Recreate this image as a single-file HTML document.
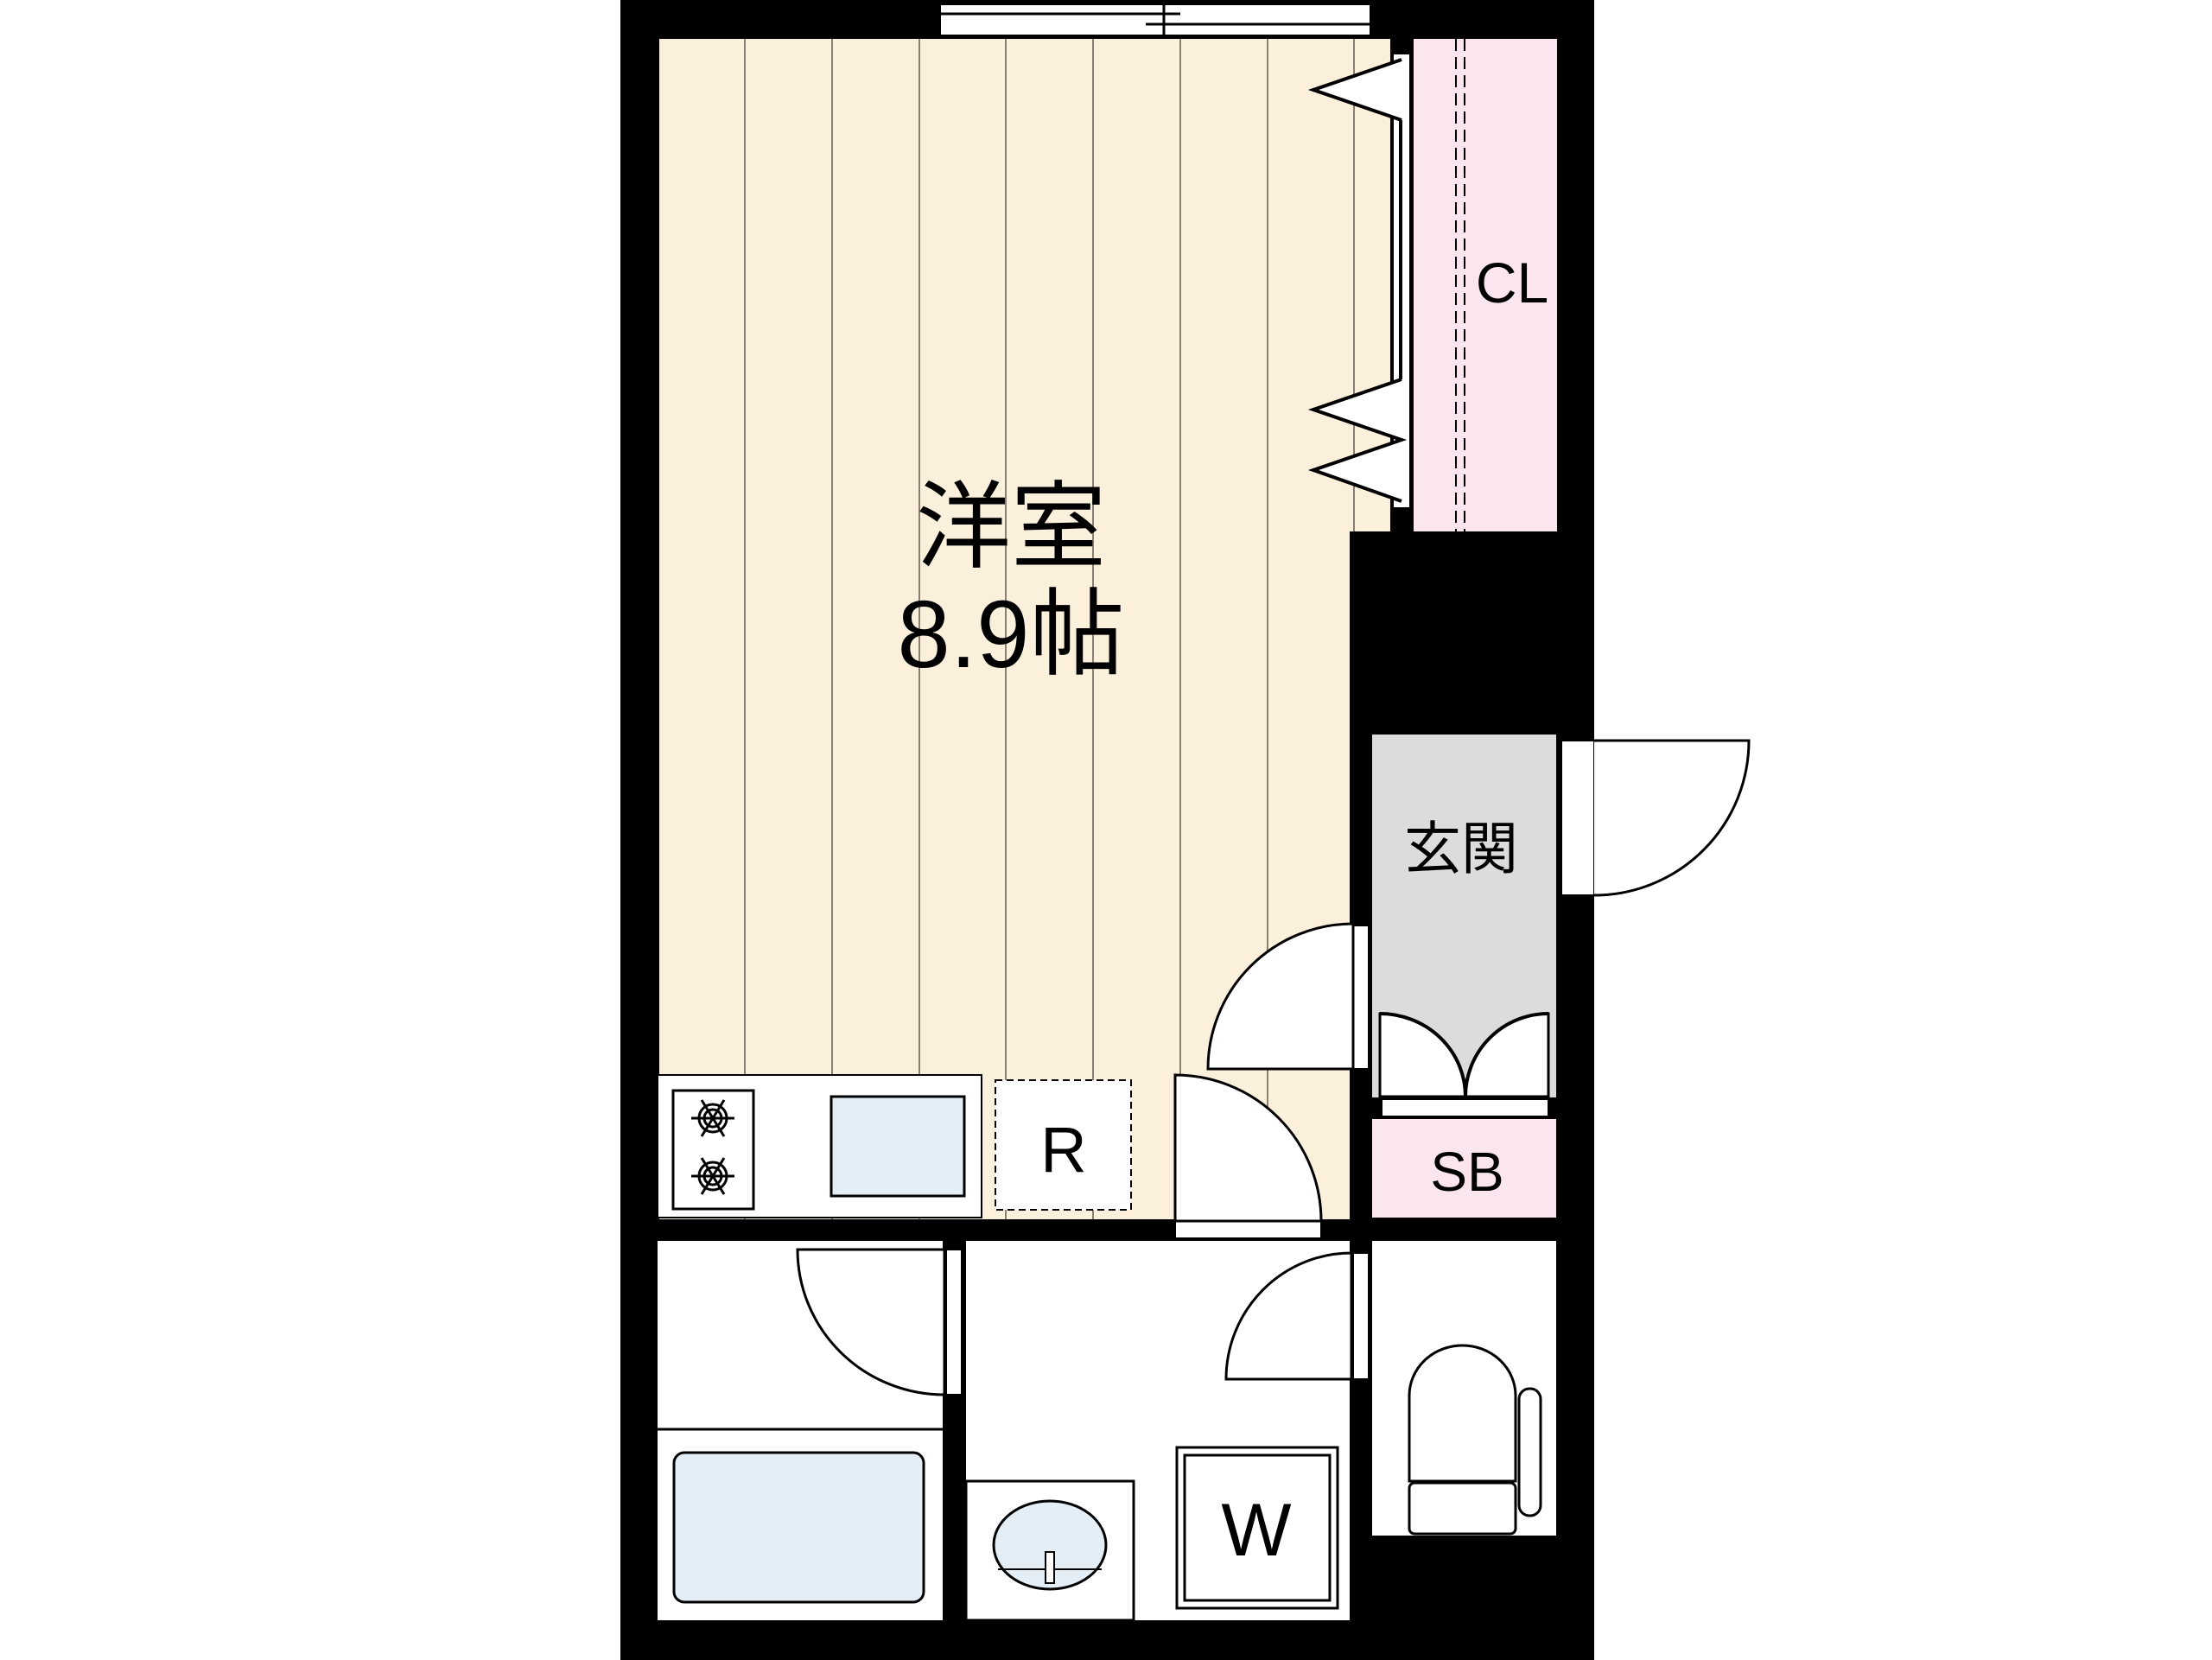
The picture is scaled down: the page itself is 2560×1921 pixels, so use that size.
<!DOCTYPE html>
<html><head><meta charset="utf-8"><style>html,body{margin:0;padding:0;background:#fff}svg{display:block}</style></head>
<body>
<svg width="2560" height="1921" viewBox="0 0 2560 1921" xmlns="http://www.w3.org/2000/svg" font-family="'Liberation Sans','Noto Sans CJK JP',sans-serif">
<rect width="2560" height="1921" fill="#fff"/>
<!-- outer black -->
<rect x="718" y="0" width="1127" height="1921" fill="#000"/>
<!-- window -->
<rect x="1088" y="5" width="498" height="36" fill="#fff" stroke="#000" stroke-width="2"/>
<line x1="1088" y1="16" x2="1366" y2="16" stroke="#000" stroke-width="3"/>
<line x1="1326" y1="28" x2="1586" y2="28" stroke="#000" stroke-width="3"/>
<line x1="1347" y1="5" x2="1347" y2="41" stroke="#000" stroke-width="3"/>
<!-- floor -->
<defs><clipPath id="fl"><polygon points="763,45 1609,45 1609,615 1562,615 1562,1411 763,1411"/></clipPath></defs>
<polygon points="763,45 1609,45 1609,615 1562,615 1562,1411 763,1411" fill="#fbf0dc"/>
<g clip-path="url(#fl)" stroke="#8a7f70" stroke-width="2">
<line x1="862" y1="45" x2="862" y2="1411"/><line x1="963" y1="45" x2="963" y2="1411"/>
<line x1="1064" y1="45" x2="1064" y2="1411"/><line x1="1164" y1="45" x2="1164" y2="1411"/>
<line x1="1265" y1="45" x2="1265" y2="1411"/><line x1="1366" y1="45" x2="1366" y2="1411"/>
<line x1="1467" y1="45" x2="1467" y2="1411"/><line x1="1567" y1="45" x2="1567" y2="1411"/>
</g>
<!-- closet -->
<rect x="1636" y="45" width="166" height="570" fill="#fbe6ef"/>
<line x1="1685" y1="45" x2="1685" y2="615" stroke="#000" stroke-width="2" stroke-dasharray="14,7"/>
<line x1="1695" y1="45" x2="1695" y2="615" stroke="#000" stroke-width="2" stroke-dasharray="14,7"/>
<text x="1750" y="350" font-size="66" text-anchor="middle">CL</text>
<rect x="1612" y="62" width="20" height="526" fill="#fff" stroke="#000" stroke-width="2"/>
<line x1="1621" y1="139" x2="1621" y2="439" stroke="#000" stroke-width="4"/>
<polyline points="1622,69 1520,104 1622,139" fill="#fff" stroke="#000" stroke-width="4"/>
<polyline points="1622,439 1520,474 1622,509 1520,544 1622,580" fill="#fff" stroke="#000" stroke-width="4"/>
<text x="1170" y="648" font-size="110" text-anchor="middle">洋室</text>
<text x="1170" y="772" font-size="110" text-anchor="middle">8.9帖</text>
<!-- genkan -->
<rect x="1588" y="850" width="213" height="420" fill="#dcdcdc"/>
<text x="1691" y="1005" font-size="66" text-anchor="middle">玄関</text>
<rect x="1597" y="1173" width="195" height="96" fill="#fff" stroke="#000" stroke-width="3"/>
<path d="M1597,1173 A99,96 0 0 1 1696,1269 L1696,1269 A96,96 0 0 1 1792,1173 L1792,1160 L1597,1160 Z" fill="#dcdcdc"/>
<path d="M1597,1173 A99,96 0 0 1 1696,1269 M1696,1269 A96,96 0 0 1 1792,1173" fill="none" stroke="#000" stroke-width="4"/>
<rect x="1599" y="1272" width="193" height="20" fill="#fff" stroke="#000" stroke-width="2"/>
<rect x="1588" y="1295" width="213" height="114" fill="#fbe6ef"/>
<text x="1698" y="1378" font-size="64" text-anchor="middle">SB</text>
<!-- entrance door -->
<rect x="1807" y="857" width="38" height="179" fill="#fff" stroke="#000" stroke-width="2"/>
<path d="M1845,857 L2024,857 A179,179 0 0 1 1845,1036" fill="#fff" stroke="#000" stroke-width="3"/>
<!-- main->genkan door -->
<rect x="1566" y="1071" width="18" height="166" fill="#fff" stroke="#000" stroke-width="2"/>
<path d="M1566,1237 L1398,1237 A168,168 0 0 1 1566,1069 Z" fill="#fff" stroke="#000" stroke-width="3"/>
<!-- kitchen -->
<rect x="761" y="1244" width="375" height="165" fill="#fff" stroke="#000" stroke-width="2"/>
<rect x="779" y="1262" width="93" height="137" fill="#fff" stroke="#000" stroke-width="3"/>
<g fill="none" stroke="#000" stroke-width="3">
<circle cx="825" cy="1294" r="16"/><circle cx="825" cy="1294" r="10"/>
<circle cx="825" cy="1361" r="16"/><circle cx="825" cy="1361" r="10"/>
<line x1="800" y1="1294" x2="850" y2="1294"/><line x1="800" y1="1361" x2="850" y2="1361"/>
<line x1="812" y1="1273" x2="838" y2="1315"/><line x1="838" y1="1273" x2="812" y2="1315"/>
<line x1="812" y1="1340" x2="838" y2="1382"/><line x1="838" y1="1340" x2="812" y2="1382"/>
</g>
<rect x="962" y="1269" width="154" height="115" fill="#e3eef6" stroke="#000" stroke-width="3"/>
<rect x="1152" y="1250" width="157" height="150" fill="#fff" stroke="#000" stroke-width="2" stroke-dasharray="8,5"/>
<text x="1231" y="1356" font-size="74" text-anchor="middle">R</text>
<!-- door main->wash -->
<rect x="1360" y="1413" width="169" height="20" fill="#fff" stroke="#000" stroke-width="2"/>
<path d="M1360,1413 L1360,1244 A169,169 0 0 1 1529,1413 Z" fill="#fff" stroke="#000" stroke-width="3"/>
<!-- lower rooms -->
<rect x="761" y="1436" width="330" height="439" fill="#fff"/>
<line x1="761" y1="1654" x2="1091" y2="1654" stroke="#000" stroke-width="3"/>
<rect x="780" y="1681" width="289" height="173" rx="12" fill="#e3eef6" stroke="#000" stroke-width="3"/>
<rect x="1095" y="1446" width="18" height="168" fill="#fff" stroke="#000" stroke-width="2"/>
<path d="M923,1446 L1093,1446 L1093,1614 A170,168 0 0 1 923,1446 Z" fill="#fff" stroke="#000" stroke-width="3"/>
<rect x="1118" y="1436" width="444" height="439" fill="#fff"/>
<rect x="1118" y="1714" width="194" height="161" fill="#fff" stroke="#000" stroke-width="3"/>
<ellipse cx="1215" cy="1788" rx="65" ry="51" fill="#e3eef6" stroke="#000" stroke-width="3"/>
<line x1="1155" y1="1816" x2="1275" y2="1816" stroke="#000" stroke-width="2"/>
<rect x="1210" y="1796" width="10" height="36" fill="#fff" stroke="#000" stroke-width="2"/>
<rect x="1362" y="1675" width="186" height="186" fill="#fff" stroke="#000" stroke-width="3"/>
<rect x="1371" y="1684" width="168" height="168" fill="none" stroke="#000" stroke-width="3"/>
<text x="1454" y="1800" font-size="86" text-anchor="middle">W</text>
<rect x="1566" y="1450" width="18" height="146" fill="#fff" stroke="#000" stroke-width="2"/>
<path d="M1564,1596 L1419,1596 A145,146 0 0 1 1564,1450 Z" fill="#fff" stroke="#000" stroke-width="3"/>
<!-- toilet -->
<rect x="1588" y="1436" width="213" height="341" fill="#fff"/>
<path d="M1631,1714 L1631,1615 A61.5,58 0 0 1 1754,1615 L1754,1714 Z" fill="#fff" stroke="#000" stroke-width="3"/>
<rect x="1631" y="1716" width="123" height="59" rx="6" fill="#fff" stroke="#000" stroke-width="3"/>
<rect x="1758" y="1607" width="25" height="147" rx="12" fill="#fff" stroke="#000" stroke-width="3"/>
</svg>
</body></html>
